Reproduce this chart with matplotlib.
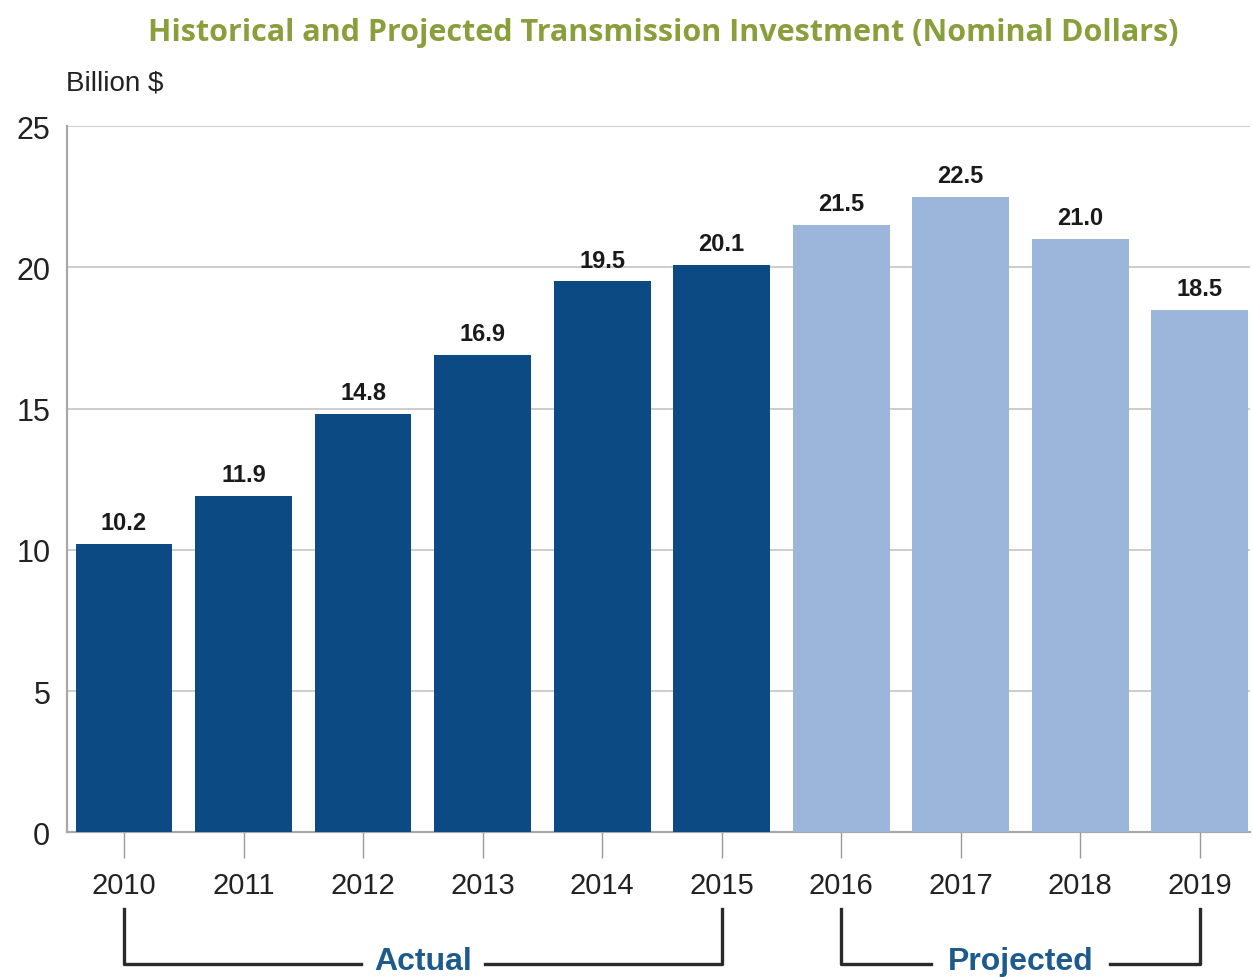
import numpy as np
import matplotlib.pyplot as plt
from matplotlib import transforms

# transmission investment, billion $
years = ['2010', '2011', '2012', '2013', '2014', '2015', '2016', '2017', '2018', '2019']
invest = [10.2, 11.9, 14.8, 16.9, 19.5, 20.1, 21.5, 22.5, 21.0, 18.5]
n_actual = 6
yticks = [0, 5, 10, 15, 20, 25]

dark = '#0b4a83'
light = '#9cb6db'
sans = ['Liberation Sans', 'DejaVu Sans']

fig = plt.figure(figsize=(12.53, 9.78), dpi=100)
ax = fig.add_axes([0.0535, 0.148, 0.944, 0.722])

x = np.arange(len(years))
colors = [dark] * n_actual + [light] * (len(years) - n_actual)
ax.bar(x, invest, width=0.81, color=colors, zorder=3)

for xi, v in zip(x, invest):
    ax.text(xi, v + 0.35, f'{v:.1f}', ha='center', va='bottom',
            fontsize=17, fontweight='bold', family=sans, color='#1a1a1a')

ax.set_xlim(-0.477, 9.42)
ax.set_ylim(0, 25)
ax.set_yticks(yticks)
ax.set_yticklabels([str(t) for t in yticks], family=sans, fontsize=22, color='#222222')
ax.set_xticks(x)
ax.set_xticklabels(years, family=sans, fontsize=21, color='#222222')
ax.tick_params(axis='y', length=0, pad=12)
ax.tick_params(axis='x', length=19, width=1.0, color='#9a9a9a', pad=9)
ax.grid(axis='y', color='#c9c9c9', linewidth=1.3, zorder=0)

for s in ['top', 'right']:
    ax.spines[s].set_visible(False)
for s in ['left', 'bottom']:
    ax.spines[s].set_color('#a8a8a8')
    ax.spines[s].set_linewidth(1.6)

# brackets under the year labels
trans = transforms.blended_transform_factory(ax.transData, ax.transAxes)
y_top, y_low = -0.109, -0.187


def bracket(x0, x1, label, gap_left, gap_right):
    kw = dict(color='#2a2a2a', linewidth=2.4, transform=trans, clip_on=False)
    xm = (x0 + x1) / 2
    ax.plot([x0, x0, xm - gap_left], [y_top, y_low, y_low], **kw)
    ax.plot([xm + gap_right, x1, x1], [y_low, y_low, y_top], **kw)
    ax.text(xm, y_low + 0.004, label, transform=trans, ha='center', va='center',
            fontsize=23, fontweight='bold', family=sans, color='#1d5b8c')


bracket(0, 5, 'Actual', 0.52, 0.52)
bracket(6, 9, 'Projected', 0.75, 0.75)

fig.text(0.0525, 0.915, 'Billion $', family=sans, fontsize=20, color='#222222',
         ha='left', va='center')
fig.text(0.529, 0.966, 'Historical and Projected Transmission Investment (Nominal Dollars)',
         family=['Open Sans', 'DejaVu Sans'], fontweight='bold', fontsize=22,
         color='#8a9f3c', ha='center', va='center')

fig.savefig('out.png', dpi=100)
